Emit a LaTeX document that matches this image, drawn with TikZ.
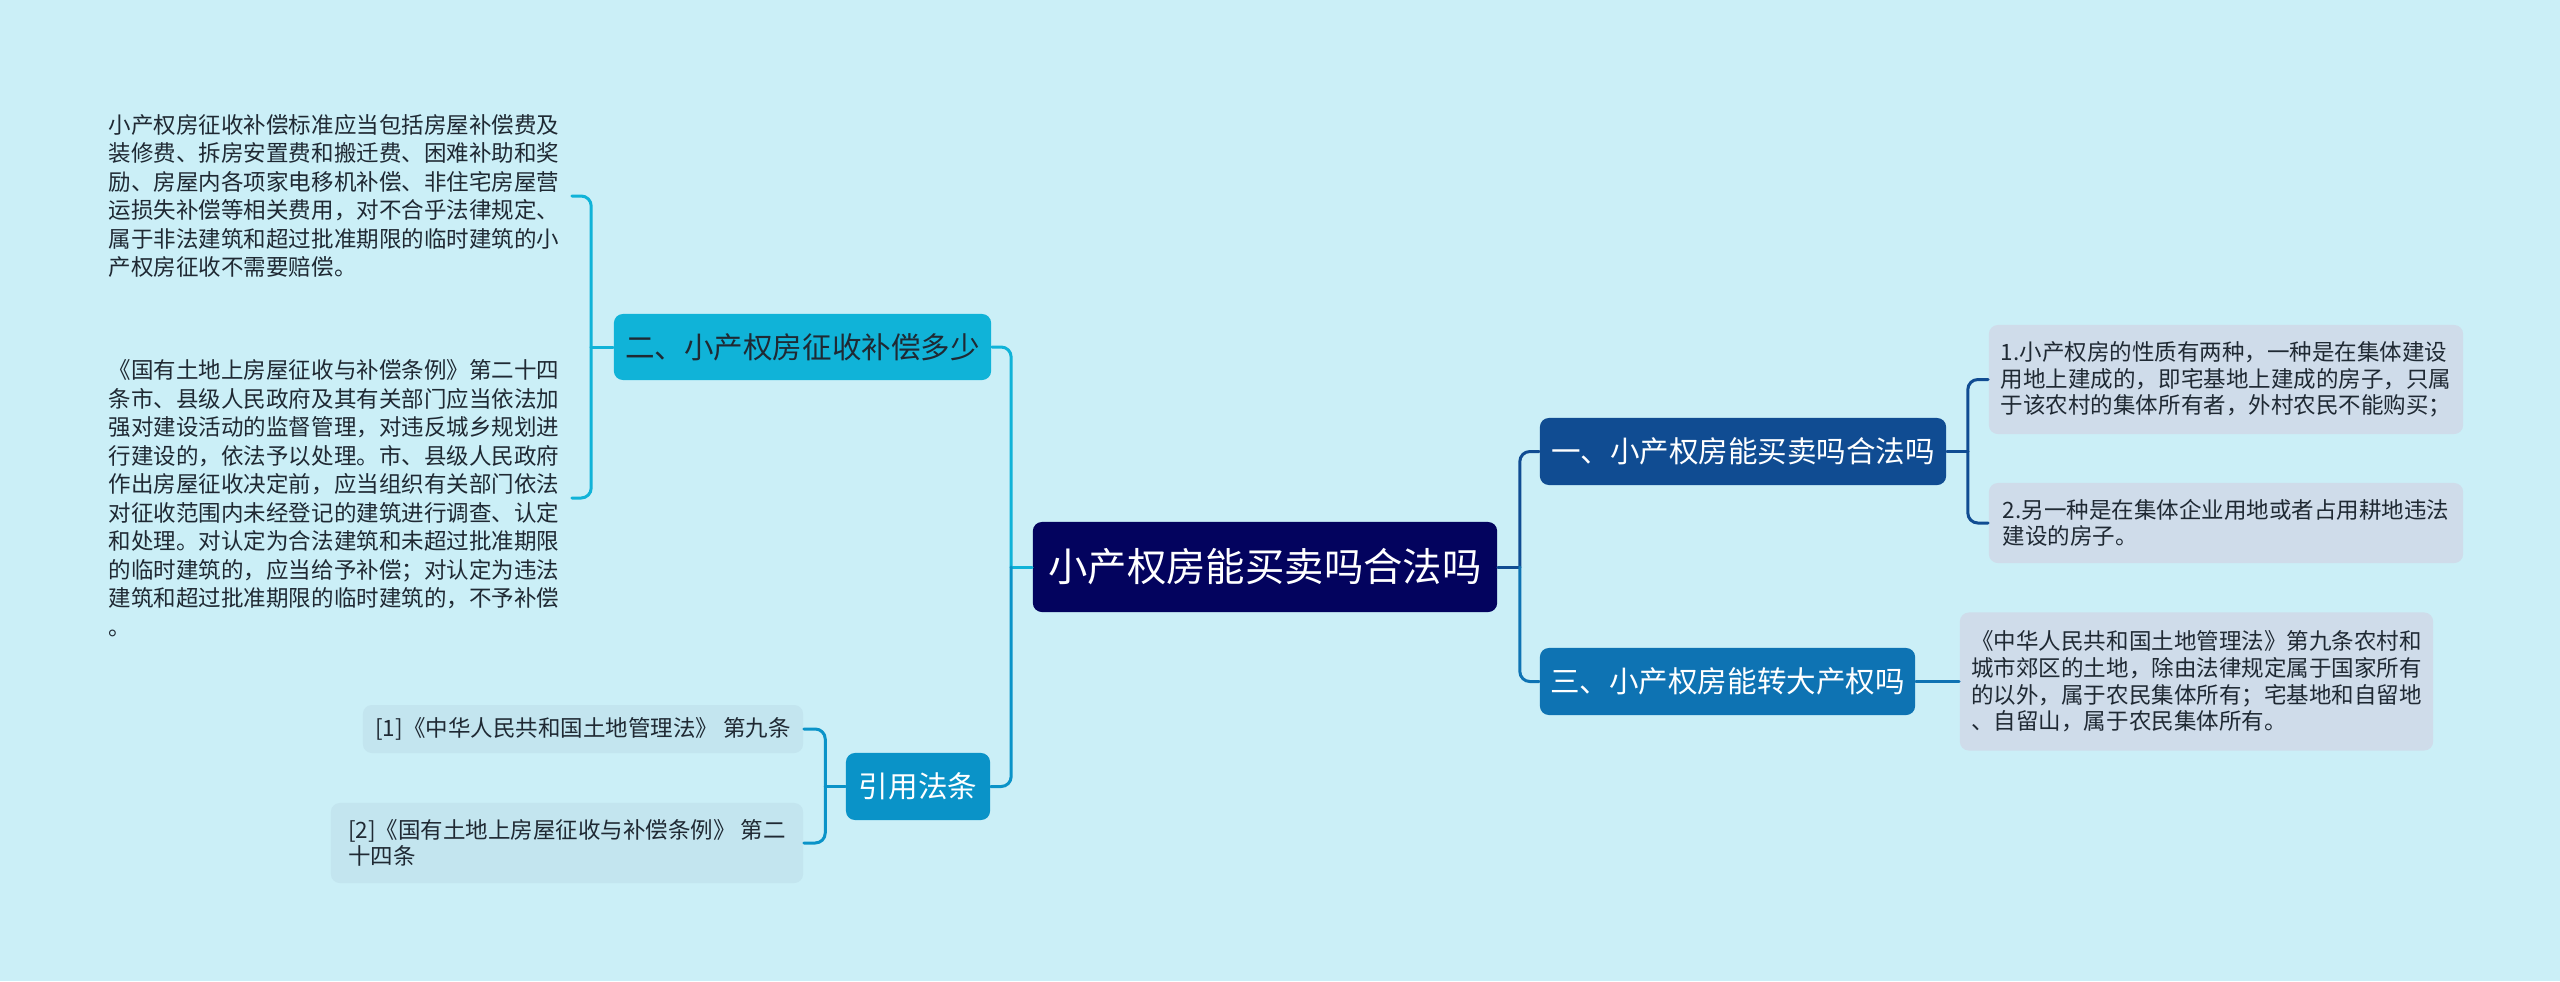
\documentclass[tikz,border=0pt]{standalone}
\usepackage{fontspec}
\setmainfont{Noto Sans CJK SC}
\definecolor{paper}{HTML}{CBEFF7}
\definecolor{navy}{HTML}{03035E}
\definecolor{deepblue}{HTML}{104C92}
\definecolor{midblue}{HTML}{0E73B3}
\definecolor{cyan}{HTML}{10B3D8}
\definecolor{sea}{HTML}{0A93C8}
\definecolor{slate}{HTML}{CFDCEA}
\definecolor{mist}{HTML}{C3E5EF}
\definecolor{ink}{HTML}{1F2933}

\begin{document}
\begin{tikzpicture}[x=0.01cm,y=-0.01cm,line cap=round,line join=round,
  topic/.style={rounded corners=0.09cm,inner sep=0pt,align=center,
    font=\fontsize{8.4}{10}\selectfont},
  leaf/.style={rounded corners=0.09cm,inner sep=0pt,align=left,text=ink,
    font=\fontsize{6.4}{7.6}\selectfont},
  note/.style={inner sep=0pt,align=left,text=ink,minimum width=4.74cm,
    font=\fontsize{6.4}{8.1}\selectfont},
  link/.style={line width=0.03cm}]
  % Background.
  \fill[paper] (0,0) rectangle (2560,981);

  % Central topic.
  \node[topic,fill=navy,text=white,minimum width=4.64cm,minimum height=0.9cm,
    font=\fontsize{11.2}{13}\selectfont] (root) at (1265,567) {小产权房能买卖吗合法吗};

  % Main branches.
  \node[topic,fill=deepblue,text=white,minimum width=4.06cm,minimum height=0.67cm]
    (buy) at (1743,451.5) {一、小产权房能买卖吗合法吗};
  \node[topic,fill=midblue,text=white,minimum width=3.75cm,minimum height=0.67cm]
    (turn) at (1727.5,681.5) {三、小产权房能转大产权吗};
  \node[topic,fill=cyan,text=ink,minimum width=3.77cm,minimum height=0.66cm]
    (comp) at (802.5,347) {二、小产权房征收补偿多少};
  \node[topic,fill=sea,text=white,minimum width=1.44cm,minimum height=0.67cm]
    (law) at (918,786.5) {引用法条};

  % Right leaves.
  \node[leaf,fill=slate,minimum width=4.74cm,minimum height=1.09cm] (buyA) at (2226,379.5)
    {1.小产权房的性质有两种，一种是在集体建设\\
     用地上建成的，即宅基地上建成的房子，只属\\
     于该农村的集体所有者，外村农民不能购买；};
  \node[leaf,fill=slate,minimum width=4.74cm,minimum height=0.8cm] (buyB) at (2226,523)
    {2.另一种是在集体企业用地或者占用耕地违法\\
     建设的房子。};
  \node[leaf,fill=slate,minimum width=4.73cm,minimum height=1.38cm] (turnA) at (2196.5,681.5)
    {《中华人民共和国土地管理法》第九条农村和\\
     城市郊区的土地，除由法律规定属于国家所有\\
     的以外，属于农民集体所有；宅基地和自留地\\
     、自留山，属于农民集体所有。};

  % Left leaves.
  \node[note] (compA) at (334,196)
    {小产权房征收补偿标准应当包括房屋补偿费及\\
     装修费、拆房安置费和搬迁费、困难补助和奖\\
     励、房屋内各项家电移机补偿、非住宅房屋营\\
     运损失补偿等相关费用，对不合乎法律规定、\\
     属于非法建筑和超过批准期限的临时建筑的小\\
     产权房征收不需要赔偿。};
  \node[note] (compB) at (334,498)
    {《国有土地上房屋征收与补偿条例》第二十四\\
     条市、县级人民政府及其有关部门应当依法加\\
     强对建设活动的监督管理，对违反城乡规划进\\
     行建设的，依法予以处理。市、县级人民政府\\
     作出房屋征收决定前，应当组织有关部门依法\\
     对征收范围内未经登记的建筑进行调查、认定\\
     和处理。对认定为合法建筑和未超过批准期限\\
     的临时建筑的，应当给予补偿；对认定为违法\\
     建筑和超过批准期限的临时建筑的，不予补偿\\
     。};
  \node[leaf,fill=mist,minimum width=4.4cm,minimum height=0.48cm] (lawA) at (583,729)
    {[1]《中华人民共和国土地管理法》 第九条};
  \node[leaf,fill=mist,minimum width=4.72cm,minimum height=0.8cm] (lawB) at (567,843)
    {[2]《国有土地上房屋征收与补偿条例》 第二\\
     十四条};

  % Junctions.
  \path (root.west) ++(-21,0) coordinate (jL);
  \path (root.east) ++(22,0) coordinate (jR);
  \path (buy.east) ++(21,0) coordinate (jBuy);
  \path (comp.west) ++(-22,0) coordinate (jComp);
  \path (law.west) ++(-20,0) coordinate (jLaw);

  % Connectors.
  \draw[link,cyan] (root.west) -- (jL);
  \draw[link,cyan,rounded corners=0.1cm] (jL) |- (comp.east);
  \draw[link,sea,rounded corners=0.1cm] (jL) |- (law.east);
  \draw[link,deepblue] (root.east) -- (jR);
  \draw[link,deepblue,rounded corners=0.1cm] (jR) |- (buy.west);
  \draw[link,midblue,rounded corners=0.1cm] (jR) |- (turn.west);
  \draw[link,deepblue] (buy.east) -- (jBuy);
  \draw[link,deepblue,rounded corners=0.1cm] (jBuy) |- (buyA.west);
  \draw[link,deepblue,rounded corners=0.1cm] (jBuy) |- (buyB.west);
  \draw[link,midblue] (turn.east) -- (turnA.west);
  \draw[link,cyan] (comp.west) -- (jComp);
  \draw[link,cyan,rounded corners=0.1cm] (jComp) |- (compA.east);
  \draw[link,cyan,rounded corners=0.1cm] (jComp) |- (compB.east);
  \draw[link,sea] (law.west) -- (jLaw);
  \draw[link,sea,rounded corners=0.1cm] (jLaw) |- (lawA.east);
  \draw[link,sea,rounded corners=0.1cm] (jLaw) |- (lawB.east);
\end{tikzpicture}
\end{document}
